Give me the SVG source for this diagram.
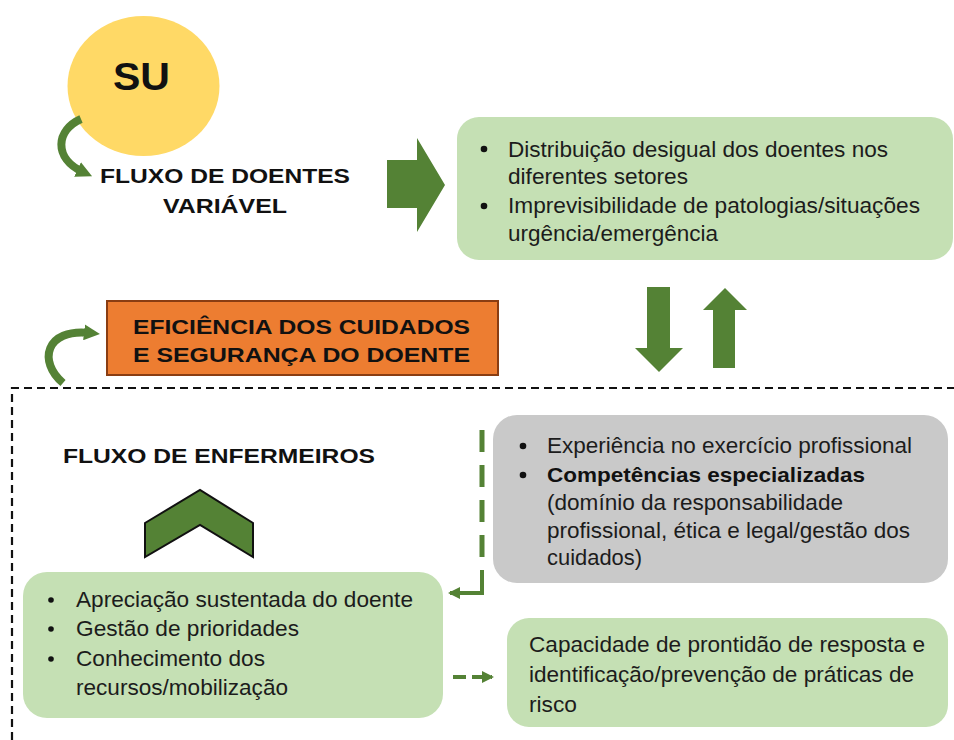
<svg xmlns="http://www.w3.org/2000/svg" width="954" height="740" viewBox="0 0 954 740">
<style>
.t{font-family:"Liberation Sans",Arial,sans-serif;font-size:22px;fill:#1c1c1c}
.b{font-family:"Liberation Sans",Arial,sans-serif;font-weight:bold;fill:#111}
.green{fill:#c5e0b4}
.dark{fill:#548235}
</style>
<defs>
<marker id="ah" markerWidth="12" markerHeight="12" refX="10" refY="6" orient="auto" markerUnits="userSpaceOnUse" viewBox="0 0 12 12">
<path d="M0,0 L12,6 L0,12 Z" fill="#548235"/>
</marker>
<marker id="ahBig" markerWidth="16" markerHeight="16" refX="6" refY="8" orient="auto" markerUnits="userSpaceOnUse" viewBox="0 0 16 16">
<path d="M0,0 L16,8 L0,16 Z" fill="#548235"/>
</marker>
</defs>

<g id="su">
<ellipse cx="143.5" cy="86" rx="76" ry="70" fill="#ffd966"/>
<text class="b" x="113" y="90" font-size="38" textLength="57" lengthAdjust="spacingAndGlyphs">SU</text>
</g>

<g id="fluxo-doentes">
<text class="b" font-size="21" x="100" y="183" textLength="250" lengthAdjust="spacingAndGlyphs">FLUXO DE DOENTES</text>
<text class="b" font-size="21" x="163" y="213" textLength="124" lengthAdjust="spacingAndGlyphs">VARIÁVEL</text>
</g>

<g id="box-doentes">
<rect x="457" y="117" width="496" height="143" rx="22" class="green"/>
<circle cx="484" cy="149" r="3.3" fill="#111"/>
<circle cx="484" cy="206" r="3.3" fill="#111"/>
<text class="t" x="508" y="157" textLength="380" lengthAdjust="spacingAndGlyphs">Distribuição desigual dos doentes nos</text>
<text class="t" x="508" y="184" textLength="180" lengthAdjust="spacingAndGlyphs">diferentes setores</text>
<text class="t" x="508" y="213" textLength="412" lengthAdjust="spacingAndGlyphs">Imprevisibilidade de patologias/situações</text>
<text class="t" x="508" y="241" textLength="210" lengthAdjust="spacingAndGlyphs">urgência/emergência</text>
</g>

<g id="eficiencia">
<rect x="107" y="301" width="391" height="74" fill="#ed7d31" stroke="#8a3d12" stroke-width="2"/>
<text class="b" font-size="20.5" x="133" y="334" textLength="337" lengthAdjust="spacingAndGlyphs">EFICIÊNCIA DOS CUIDADOS</text>
<text class="b" font-size="20.5" x="133" y="362" textLength="337" lengthAdjust="spacingAndGlyphs">E SEGURANÇA DO DOENTE</text>
</g>

<g id="fluxo-enfermeiros">
<text class="b" font-size="21" x="63" y="463" textLength="312" lengthAdjust="spacingAndGlyphs">FLUXO DE ENFERMEIROS</text>
<polygon points="145,523 200,490 253,523 253,557 200,525 145,557" fill="#548235" stroke="#111" stroke-width="2" stroke-linejoin="miter"/>
</g>

<g id="box-competencias">
<rect x="493" y="415" width="455" height="168" rx="24" fill="#c9c9c9"/>
<circle cx="523" cy="446" r="3.3" fill="#111"/>
<circle cx="523" cy="475" r="3.3" fill="#111"/>
<text class="t" x="547" y="453" textLength="365" lengthAdjust="spacingAndGlyphs">Experiência no exercício profissional</text>
<text class="b" font-size="21" x="547" y="482" textLength="318" lengthAdjust="spacingAndGlyphs">Competências especializadas</text>
<text class="t" x="547" y="510" textLength="296" lengthAdjust="spacingAndGlyphs">(domínio da responsabilidade</text>
<text class="t" x="547" y="538" textLength="363" lengthAdjust="spacingAndGlyphs">profissional, ética e legal/gestão dos</text>
<text class="t" x="547" y="565" textLength="95" lengthAdjust="spacingAndGlyphs">cuidados)</text>
</g>

<g id="box-apreciacao">
<rect x="23" y="572" width="420" height="146" rx="24" class="green"/>
<circle cx="51" cy="600" r="2.8" fill="#111"/>
<circle cx="51" cy="629" r="2.8" fill="#111"/>
<circle cx="51" cy="659" r="2.8" fill="#111"/>
<text class="t" x="76" y="607" textLength="337" lengthAdjust="spacingAndGlyphs">Apreciação sustentada do doente</text>
<text class="t" x="76" y="636" textLength="223" lengthAdjust="spacingAndGlyphs">Gestão de prioridades</text>
<text class="t" x="76" y="666" textLength="189" lengthAdjust="spacingAndGlyphs">Conhecimento dos</text>
<text class="t" x="76" y="695" textLength="212" lengthAdjust="spacingAndGlyphs">recursos/mobilização</text>
</g>

<g id="box-capacidade">
<rect x="507" y="618" width="441" height="109" rx="22" class="green"/>
<text class="t" x="529" y="652" textLength="396" lengthAdjust="spacingAndGlyphs">Capacidade de prontidão de resposta e</text>
<text class="t" x="529" y="682" textLength="385" lengthAdjust="spacingAndGlyphs">identificação/prevenção de práticas de</text>
<text class="t" x="529" y="712" textLength="48" lengthAdjust="spacingAndGlyphs">risco</text>
</g>

<g id="connectors">
<polygon points="387,160 417,160 417,138 445,185 417,232 417,208 387,208" fill="#548235"/>
<polygon points="647,287 670,287 670,348 683,348 659,372 635,348 647,348" fill="#548235"/>
<polygon points="713,368 735,368 735,310 747,310 725,288 703,310 713,310" fill="#548235"/>
<path d="M 81 119 C 56 130, 53 158, 83 172" fill="none" stroke="#548235" stroke-width="8" marker-end="url(#ahBig)"/>
<path d="M 63 383 C 38 362, 45 328, 90 333" fill="none" stroke="#548235" stroke-width="8" marker-end="url(#ahBig)"/>
<path d="M 12 740 L 12 388 L 954 388" fill="none" stroke="#111" stroke-width="2.2" stroke-dasharray="8,5"/>
<path d="M 482 430 L 482 570" fill="none" stroke="#548235" stroke-width="5" stroke-dasharray="22,13"/>
<path d="M 482 570 L 482 593 L 450 593" fill="none" stroke="#548235" stroke-width="4" marker-end="url(#ah)"/>
<path d="M 453 677 L 492 677" fill="none" stroke="#548235" stroke-width="4" stroke-dasharray="13,6" marker-end="url(#ah)"/>
</g>
</svg>
